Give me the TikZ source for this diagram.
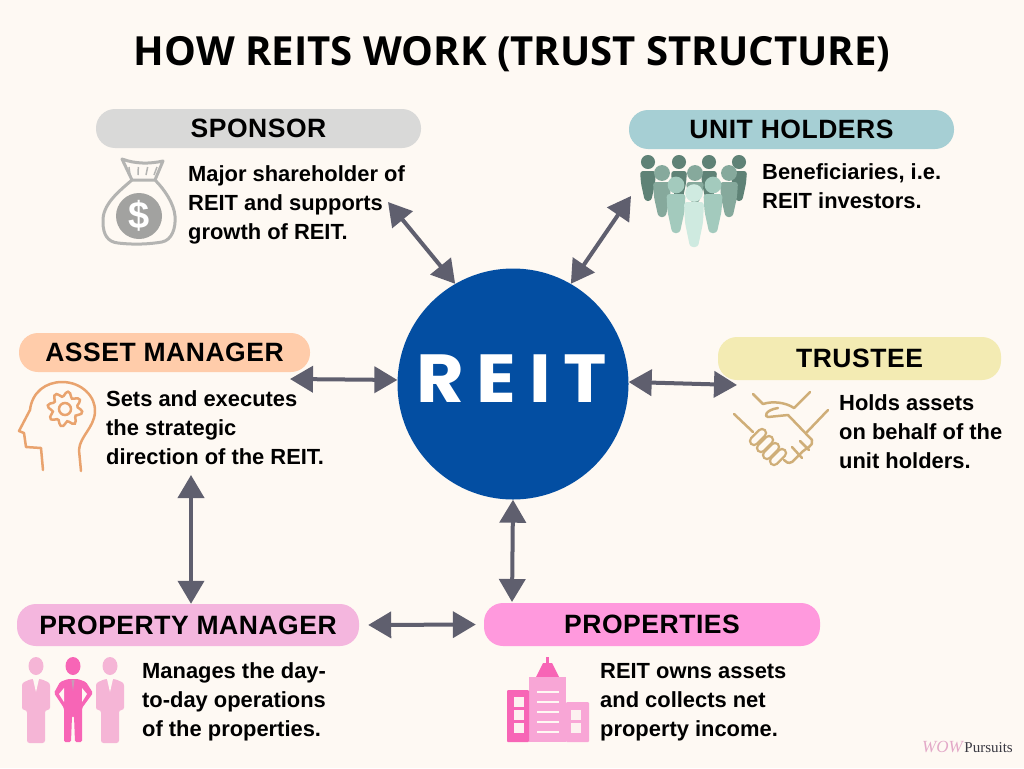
\documentclass[tikz,border=0pt]{standalone}
\usepackage{fontspec}
\usetikzlibrary{arrows.meta}
\setmainfont{Liberation Sans}
\newfontfamily\titlefont{Open Sans}
\newfontfamily\pillfont[LetterSpace=2]{Liberation Sans}
\newfontfamily\reitfont[LetterSpace=17]{Poppins}
\newfontfamily\wowfont{Liberation Serif}
\definecolor{paper}{HTML}{FEF9F3}
\definecolor{reitblue}{HTML}{034EA2}
\definecolor{arrowgrey}{HTML}{5F5F6E}
\definecolor{bagcol}{HTML}{B4B4B2}
\definecolor{headcol}{HTML}{E9A36E}
\definecolor{shakecol}{HTML}{CFAE78}
\definecolor{hotpink}{HTML}{F765B6}
\definecolor{softpink}{HTML}{F5B5D6}
\definecolor{midpink}{HTML}{F8A6D6}
\tikzset{
 pill/.style={rounded corners=19pt,inner sep=0pt,font=\pillfont\bfseries\fontsize{26.5}{30}\selectfont},
 blurb/.style={anchor=west,align=left,inner sep=0pt,font=\bfseries\fontsize{21.9}{29}\selectfont},
 biarrow/.style={line width=4pt,color=arrowgrey,{Triangle[length=23pt,width=26pt]}-{Triangle[length=23pt,width=26pt]}}
}
\begin{document}
\begin{tikzpicture}[x=1pt,y=-1pt]
 \fill[paper] (0,0) rectangle (1024,768);
 \useasboundingbox (0,0) rectangle (1024,768);
 \node (title) at (512,54) {\titlefont\bfseries\fontsize{40.1}{46}\selectfont HOW REITS WORK (TRUST STRUCTURE)};
 \node[circle,fill=reitblue,minimum size=231pt,inner sep=0pt] (reit) at (513,384)
  {\raisebox{10pt}{\hspace{-3pt}\scalebox{1.08}[1]{\reitfont\bfseries\fontsize{68}{70}\selectfont\color{white}REIT}}};
 \foreach \n/\x/\y/\w/\h/\c/\t in
  {
    sponsor/258.5/128.5/325/39/D9D9D8/SPONSOR,
    unit/791.5/129.5/325/39/A6CFD4/UNIT HOLDERS,
    asset/164.5/352.5/291/39/FFCCAA/ASSET MANAGER,
    trustee/859.5/358.5/283/43/F3EBB3/TRUSTEE,
    pm/188/625/342/42/F4B6DE/PROPERTY MANAGER,
    prop/652/624.5/336/43/FF99DD/PROPERTIES
  }
  {
    \definecolor{pillcol}{HTML}{\c}
    \node[pill,fill=pillcol,minimum width=\w pt,minimum height=\h pt] (\n) at (\x,\y) {\t};
  }
 \node[blurb] (sponsortxt) at (188,205) {Major shareholder of\\REIT and supports\\growth of REIT.};
 \node[blurb] (unittxt) at (762,186) {Beneficiaries, i.e.\\REIT investors.};
 \node[blurb] (assettxt) at (106,428) {Sets and executes\\the strategic\\direction of the REIT.};
 \node[blurb] (trusteetxt) at (839,432) {Holds assets\\on behalf of the\\unit holders.};
 \node[blurb] (pmtxt) at (142,702) {Manages the day-\\to-day operations\\of the properties.};
 \node[blurb] (proptxt) at (600,702) {REIT owns assets\\and collects net\\property income.};
 \coordinate (sponsorend) at (388,202);
 \coordinate (unitend) at (631,196);
 \coordinate (assetend) at (290,379);
 \coordinate (trusteeend) at (737,385);
 \coordinate (propend) at (512,602);
 \coordinate (assetdown) at (191,475);
 \draw[biarrow] (sponsorend) -- (reit.120);
 \draw[biarrow] (unitend) -- (reit.60);
 \draw[biarrow] (assetend) -- (reit.178);
 \draw[biarrow] (trusteeend) -- (reit.1);
 \draw[biarrow] (propend) -- (reit.south);
 \draw[biarrow] (assetdown) -- (assetdown |- pm.north);
 \draw[biarrow,shorten >=8pt,shorten <=9pt] (pm.east) -- (prop.west);
 % money bag
 \draw[bagcol,line width=3pt,line join=round]
  (132,180) .. controls (118,192) and (102,205) .. (103,222)
  .. controls (103,235) and (108,242) .. (118,243)
  .. controls (135,245) and (150,244) .. (162,242)
  .. controls (172,240) and (176,228) .. (175,216)
  .. controls (174,204) and (165,190) .. (155,180) -- cycle;
 \draw[bagcol,line width=3pt,line join=round]
  (132,180) -- (122,159) .. controls (135,164) and (150,164) .. (163,161) -- (155,180);
 \foreach \x in {130,138,146,154} {\draw[bagcol,line width=1.5pt] (\x,175) -- ({\x-1+(\x-130)/6},167);}
 \node[circle,fill=bagcol!90!black,minimum size=46pt,inner sep=0pt,text=white] (dollar) at (139,216)
  {\bfseries\fontsize{38}{38}\selectfont\$};
 % people
 \foreach \x/\y/\w/\h/\c in
  {
    648/162/8/39/5F8276, 679/162/8/39/5F8276, 709/162/8/39/5F8276, 739/162/8/39/5F8276,
    662/173/9/44/86A99C, 695/173/9/30/86A99C, 729/173/9/44/86A99C,
    676/185/9.5/48/A3CABD, 713/185/9.5/48/A3CABD,
    694/193/10/54/CFEAE0
  }
  {
    \definecolor{mancol}{HTML}{\c}
    \fill[mancol] (\x,\y) circle ({\w*0.88});
    \fill[mancol,rounded corners=3pt] (\x-\w,\y+9) -- (\x+\w,\y+9) -- (\x+\w-1,\y+\h*0.55)
     -- (\x+\w*0.4,\y+\h) -- (\x-\w*0.4,\y+\h) -- (\x-\w+1,\y+\h*0.55) -- cycle;
  }
 % head and gear
 \draw[headcol,line width=2.5pt,line join=round,line cap=round]
  (43,470) -- (41,448) -- (26,447) -- (24,433) -- (19,431) -- (30,410)
  .. controls (32,392) and (46,382) .. (62,382)
  .. controls (82,382) and (96,397) .. (95,412)
  .. controls (94,428) and (80,436) .. (79,450) -- (81,471);
 \draw[headcol,line width=2.5pt] plot[smooth cycle,domain=0:352,samples=45]
  ({65+(15+2.6*sin(8*\x))*cos(\x)},{409+(15+2.6*sin(8*\x))*sin(\x)});
 \draw[headcol,line width=2.5pt] (65,409) circle (6);
 % handshake
 \begin{scope}[shakecol,line width=2.5pt,line cap=round,line join=round]
  \draw (734,414) -- (753,432);
  \draw (828,410) -- (807,432);
  \draw (753,394) -- (763,404) .. controls (772,401) and (785,402) .. (794,408) -- (810,392);
  \draw (778,408) .. controls (765,410) and (764,417) .. (768,417) -- (788,415) -- (812,440)
   .. controls (814,446) and (806,448) .. (802,452) -- (792,462) .. controls (788,464) and (786,462) .. (784,460);
  \draw (792,447) -- (802,458);
  \draw (800,441) -- (809,450);
  \foreach \x/\y in {758/437,765/444,771/451,778/457}
   {
     \draw[double=paper,double distance=5.5pt] (\x+4,\y-4) -- (\x-4,\y+4);
   }
 \end{scope}
 % three men
 \foreach \x in {36,110}
  {
    \fill[softpink] (\x,666) ellipse (7.5 and 9);
    \fill[softpink,rounded corners=2.5pt] (\x-5,679) -- (\x-14,683) -- (\x-14,710) -- (\x-9,710)
     -- (\x-9,743) -- (\x+9,743) -- (\x+9,710) -- (\x+14,710) -- (\x+14,683) -- (\x+5,679) -- cycle;
    \fill[paper] (\x-3,679) -- (\x+3,679) -- (\x,692) -- cycle;
  }
 \fill[hotpink] (73,666) ellipse (7.5 and 9);
 \fill[hotpink,rounded corners=1.5pt] (68,679) -- (60,682) -- (54,693) -- (64,708) -- (64,742) -- (71,742) -- (72,716)
  -- (74,716) -- (75,742) -- (82,742) -- (82,708) -- (93,693) -- (86,682) -- (78,679) -- cycle;
 \fill[paper] (64,688) -- (59,694) -- (64,702) -- cycle;
 \fill[paper] (82,688) -- (87,694) -- (82,702) -- cycle;
 \fill[softpink!70!arrowgrey] (71.5,680) -- (74.5,680) -- (73,691) -- cycle;
 % building
 \draw[hotpink,line width=2.5pt] (547.5,657) -- (547.5,665);
 \fill[hotpink] (536,677) -- (543,663) -- (552,663) -- (559,677) -- cycle;
 \fill[midpink] (529,677) rectangle (566,742);
 \fill[hotpink,rounded corners=1pt] (507,742) -- (507,690) -- (529,690) -- (529,742) -- cycle;
 \fill[midpink,rounded corners=1pt] (566,702) -- (589,702) -- (589,742) -- (566,742) -- cycle;
 \foreach \y in {692,702,712,722,732} {\draw[paper,line width=2.5pt] (537,\y) -- (559,\y);}
 \foreach \x/\y in {514/697,514/710,514/723,571/710,571/723} {\fill[paper!90!midpink] (\x,\y) rectangle (\x+10,\y+10);}
 \node[anchor=east,inner sep=0pt] (wow) at (1013,747)
  {\textcolor{hotpink!45!paper!85!arrowgrey}{\wowfont\itshape\fontsize{17}{17}\selectfont WOW}\,\textcolor{arrowgrey!60!black}{\wowfont\fontsize{15}{15}\selectfont Pursuits}};
\end{tikzpicture}
\end{document}
